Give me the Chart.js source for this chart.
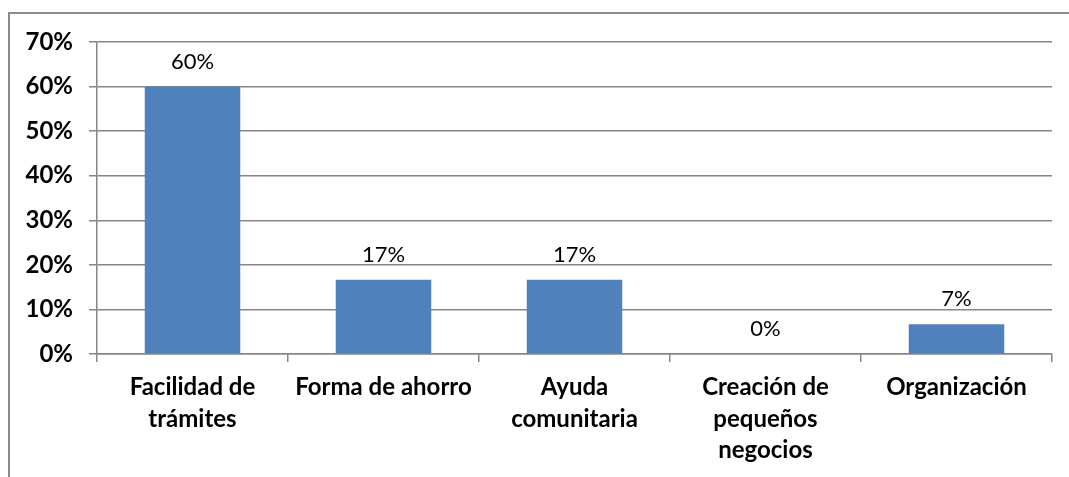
<!DOCTYPE html>
<html><head><meta charset="utf-8">
<script src="https://cdn.jsdelivr.net/npm/chart.js@4"></script>
<style>
html,body{margin:0;padding:0;background:#fff;}
#wrap{position:absolute;left:0;top:0;width:1069px;height:477px;}
#frame{position:absolute;left:8px;top:12px;width:1070px;height:480px;border-left:2px solid #8c8c8c;border-top:2px solid #8c8c8c;box-sizing:border-box;}
canvas{position:absolute;left:0;top:0;}
</style></head>
<body>
<div id="wrap"><div id="frame"></div><canvas id="c" width="1069" height="477"></canvas></div>
<script>
const categories = [["Facilidad de","trámites"],"Forma de ahorro",["Ayuda","comunitaria"],["Creación de","pequeños","negocios"],"Organización"];
const values = [60, 16.67, 16.67, 0, 6.67];
const valueLabels = ["60%","17%","17%","0%","7%"];
const yTicks = [0,10,20,30,40,50,60,70];

const FONT = "Lato, 'Open Sans', sans-serif";
const labelPlugin = {
  id:'vlabels',
  afterDatasetsDraw(chart){
    const ctx = chart.ctx;
    const meta = chart.getDatasetMeta(0);
    ctx.save();
    ctx.font = "22px " + FONT;
    ctx.fillStyle = "#000";
    ctx.textAlign = "center";
    ctx.textBaseline = "alphabetic";
    meta.data.forEach((el,i)=>{
      ctx.fillText(valueLabels[i], el.x, el.y - 18);
    });
    ctx.restore();
  }
};

new Chart(document.getElementById('c'), {
  type:'bar',
  data:{labels:categories, datasets:[{data:values, backgroundColor:'#4F81BD', borderWidth:0, categoryPercentage:1, barPercentage:0.5}]},
  options:{
    responsive:false, animation:false,
    layout:{padding:{top:42,right:17,left:0,bottom:0}},
    plugins:{legend:{display:false},tooltip:{enabled:false}},
    scales:{
      x:{
        grid:{offset:true,drawOnChartArea:false,tickLength:8,color:'#868686',lineWidth:1.5},
        border:{color:'#868686',width:1.5},
        ticks:{color:'#000',font:{family:FONT,size:24,weight:'bold',lineHeight:1.3},padding:10,maxRotation:0,autoSkip:false},
        afterFit(s){s.height = 477-354;}
      },
      y:{
        min:0,max:70,
        afterBuildTicks(s){s.ticks = yTicks.map(v=>({value:v}));},
        grid:{color:'#868686',lineWidth:1.5,tickLength:8},
        border:{color:'#868686',width:1.5},
        ticks:{color:'#000',font:{family:FONT,size:24,weight:'bold'},padding:16,callback:v=>v+'%'},
        afterFit(s){s.width = 97;}
      }
    }
  },
  plugins:[labelPlugin]
});
</script>
</body></html>
